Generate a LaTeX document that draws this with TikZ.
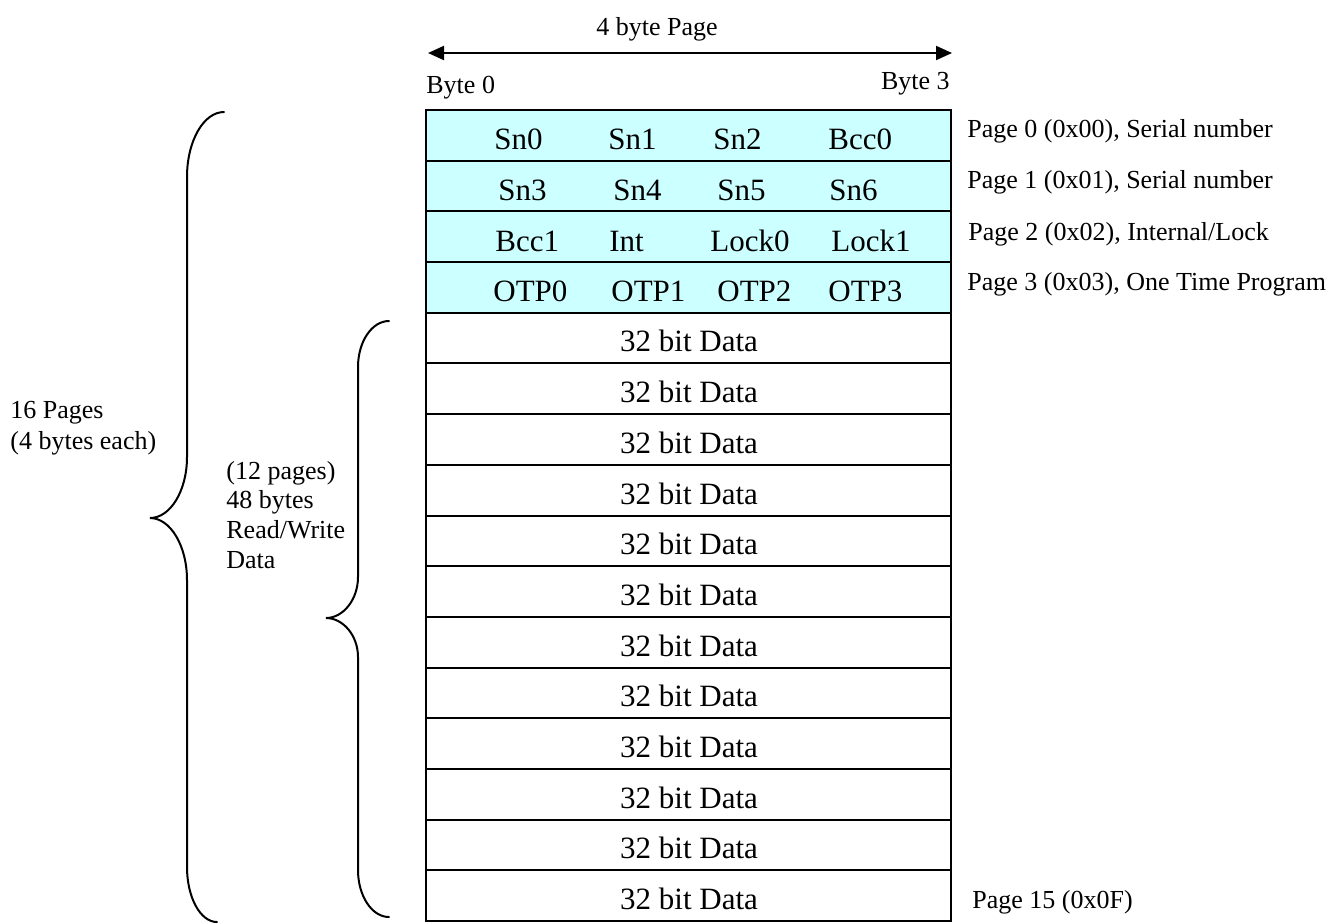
\documentclass[tikz,border=0pt]{standalone}
\usepackage{fontspec}
\setmainfont{Liberation Serif}
\usetikzlibrary{arrows.meta}
\definecolor{cellcyan}{HTML}{CCFFFF}
\begin{document}
\begin{tikzpicture}[x=0.5pt,y=-0.5pt,
  rowbox/.style={draw=black, line width=1pt, minimum width=262.5pt, minimum height=25.34pt, inner sep=0pt, outer sep=0pt},
  hdr/.style={rowbox, fill=cellcyan},
  datarow/.style={rowbox, fill=white},
  cell/.style={anchor=base west, inner sep=0pt, font=\fontsize{15.5}{18}\selectfont},
  datatxt/.style={anchor=base, inner sep=0pt, font=\fontsize{15.5}{18}\selectfont},
  lbl/.style={anchor=base west, inner sep=0pt, font=\fontsize{13}{15}\selectfont},
  lble/.style={anchor=base east, inner sep=0pt, font=\fontsize{13}{15}\selectfont},
  lblc/.style={anchor=base, inner sep=0pt, font=\fontsize{13}{15}\selectfont},
  bracepath/.style={line width=1pt, line cap=round},
  widthArrow/.style={line width=1pt, {Triangle[length=8pt,width=7pt]}-{Triangle[length=8pt,width=7pt]}}]
\useasboundingbox (0,0) rectangle (1342,923);

% header rows
\node[hdr] (r0) at (688.5,135.34) {};
\node[hdr] (r1) at (688.5,186.03) {};
\node[hdr] (r2) at (688.5,236.72) {};
\node[hdr] (r3) at (688.5,287.41) {};

% data rows
\foreach \i in {4,...,15}{
  \pgfmathsetmacro{\cy}{110+(\i+0.5)*50.6875}
  \pgfmathsetmacro{\by}{110+(\i+1)*50.6875-11.5}
  \node[datarow] (r\i) at (688.5,\cy) {};
  \node[datatxt] (d\i) at (689,\by) {32 bit Data};
}

% header cell texts
\node[cell] (c00) at (494,149.3) {Sn0};
\node[cell] (c01) at (608,149.3) {Sn1};
\node[cell] (c02) at (713,149.3) {Sn2};
\node[cell] (c03) at (828,149.3) {Bcc0};
\node[cell] (c10) at (498,200.7) {Sn3};
\node[cell] (c11) at (613,200.7) {Sn4};
\node[cell] (c12) at (717,200.7) {Sn5};
\node[cell] (c13) at (829,200.7) {Sn6};
\node[cell] (c20) at (495,251.7) {Bcc1};
\node[cell] (c21) at (609,251.7) {Int};
\node[cell] (c22) at (710,251.7) {Lock0};
\node[cell] (c23) at (831,251.7) {Lock1};
\node[cell] (c30) at (493,301.7) {OTP0};
\node[cell] (c31) at (611,301.7) {OTP1};
\node[cell] (c32) at (717,301.7) {OTP2};
\node[cell] (c33) at (828,301.7) {OTP3};

% page labels
\node[lbl] (p0) at (967,137) {Page 0 (0x00), Serial number};
\node[lbl] (p1) at (967,188) {Page 1 (0x01), Serial number};
\node[lbl] (p2) at (968,240) {Page 2 (0x02), Internal/Lock};
\node[lbl] (p3) at (967,290) {Page 3 (0x03), One Time Program};
\node[lbl] (p15) at (972,908) {Page 15 (0x0F)};

% top arrow and labels
\node[lblc] (title) at (657,35) {4 byte Page};
\coordinate (aL) at (428,53);
\coordinate (aR) at (952,53);
\draw[widthArrow] (aL) -- (aR);
\node[lbl] (b0) at (426,93) {Byte 0};
\node[lble] (b3) at (950,89) {Byte 3};

% left labels
\node[lbl] (t16a) at (10,418) {16 Pages};
\node[lbl] (t16b) at (10,449) {(4 bytes each)};
\node[lbl] (t12a) at (226,479) {(12 pages)};
\node[lbl] (t12b) at (226,508) {48 bytes};
\node[lbl] (t12c) at (226,538) {Read/Write};
\node[lbl] (t12d) at (226,568) {Data};

% big brace
\draw[bracepath] (224,112) .. controls (203.6,112) and (187,141) .. (187,177)
  -- (187,457) .. controls (187,490.7) and (170.4,518) .. (150,518)
  .. controls (170.4,518) and (187,545.8) .. (187,580)
  -- (187,867) .. controls (187,897.4) and (200.4,922) .. (217,922);

% small brace
\draw[bracepath] (389,321) .. controls (371.9,321) and (358,341.6) .. (358,367)
  -- (358,577) .. controls (358,599.6) and (343.1,618) .. (326,618)
  .. controls (343.1,618) and (358,635.5) .. (358,657)
  -- (358,870) .. controls (358,895.9) and (371.9,917) .. (389,917);
\end{tikzpicture}
\end{document}
